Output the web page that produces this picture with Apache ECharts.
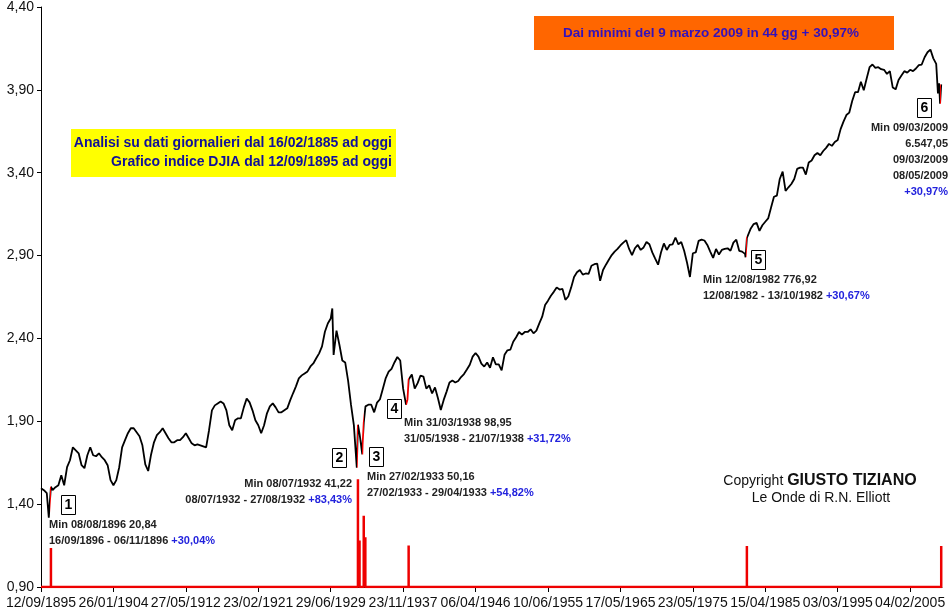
<!DOCTYPE html>
<html>
<head>
<meta charset="utf-8">
<title>DJIA - Le Onde di R.N. Elliott</title>
<script src="https://cdn.jsdelivr.net/npm/echarts@6/dist/echarts.min.js"></script>
<style>
    html, body { margin: 0; padding: 0; background: #ffffff; }
    #chart { width: 950px; height: 614px; }
</style>
</head>
<body>
<div id="chart"></div>
<script>
// asse X: 1 unita = 100 sedute, un'etichetta ogni 25 unita
var tickLabels = ['12/09/1895', '26/01/1904', '27/05/1912', '23/02/1921', '29/06/1929', '23/11/1937',
    '06/04/1946', '10/06/1955', '17/05/1965', '23/05/1975', '15/04/1985', '03/03/1995', '04/02/2005'];

// log10 del DJIA, un valore ogni 100 sedute
var djiaLog = [
    1.496, 1.484, 1.466, 1.400, 1.484, 1.502, 1.514, 1.575, 1.514, 1.623,
    1.665, 1.743, 1.725, 1.707, 1.635, 1.617, 1.695, 1.743, 1.695, 1.689,
    1.707, 1.683, 1.665, 1.635, 1.545, 1.514, 1.545, 1.623, 1.743, 1.786,
    1.828, 1.858, 1.858, 1.834, 1.810, 1.755, 1.640, 1.600, 1.700, 1.773,
    1.816, 1.834, 1.858, 1.828, 1.798, 1.773, 1.773, 1.786, 1.786, 1.804,
    1.828, 1.798, 1.767, 1.755, 1.761, 1.755, 1.749, 1.743, 1.846, 1.966,
    1.996, 2.008, 2.020, 2.008, 1.966, 1.876, 1.846, 1.906, 1.918, 1.918,
    1.984, 2.038, 2.014, 1.966, 1.906, 1.876, 1.828, 1.876, 1.948, 1.990,
    2.008, 1.984, 1.954, 1.954, 1.966, 1.978, 2.026, 2.069, 2.111, 2.159,
    2.177, 2.189, 2.201, 2.231, 2.249, 2.280, 2.310, 2.352, 2.440, 2.490,
    2.520, 2.300, 2.447, 2.362, 2.267, 2.255, 2.146, 2.000, 1.875, 1.620,
    1.820, 1.760, 1.990, 2.000, 2.000, 1.954, 2.013, 2.033, 2.097, 2.161,
    2.199, 2.217, 2.255, 2.288, 2.267, 2.097, 2.000, 2.146, 2.182, 2.097,
    2.130, 2.176, 2.170, 2.097, 2.117, 2.068, 2.104, 2.041, 1.968, 2.029,
    2.079, 2.134, 2.146, 2.134, 2.143, 2.167, 2.185, 2.212, 2.241, 2.290,
    2.312, 2.290, 2.248, 2.230, 2.255, 2.223, 2.286, 2.243, 2.243, 2.207,
    2.301, 2.328, 2.332, 2.380, 2.407, 2.439, 2.423, 2.439, 2.439, 2.455,
    2.431, 2.447, 2.491, 2.531, 2.602, 2.628, 2.658, 2.681, 2.708, 2.695,
    2.699, 2.633, 2.653, 2.708, 2.771, 2.799, 2.813, 2.785, 2.792, 2.789,
    2.839, 2.848, 2.851, 2.748, 2.813, 2.845, 2.875, 2.903, 2.924, 2.940,
    2.961, 2.978, 2.993, 2.940, 2.903, 2.944, 2.964, 2.934, 2.949, 2.982,
    2.968, 2.919, 2.881, 2.845, 2.919, 2.973, 2.934, 2.964, 2.968, 3.009,
    2.968, 2.982, 2.929, 2.857, 2.771, 2.914, 2.919, 2.989, 2.996, 2.991,
    2.964, 2.924, 2.886, 2.940, 2.906, 2.934, 2.940, 2.944, 2.929, 2.978,
    2.996, 2.929, 2.924, 2.910, 3.013, 3.064, 3.090, 3.097, 3.049, 3.083,
    3.104, 3.124, 3.190, 3.255, 3.262, 3.362, 3.407, 3.290, 3.312, 3.332,
    3.362, 3.423, 3.431, 3.431, 3.389, 3.462, 3.474, 3.505, 3.519, 3.505,
    3.531, 3.550, 3.574, 3.562, 3.585, 3.597, 3.663, 3.708, 3.748, 3.763,
    3.833, 3.886, 3.886, 3.949, 3.898, 3.968, 4.037, 4.053, 4.033, 4.037,
    4.025, 4.021, 3.996, 4.013, 3.914, 3.903, 3.959, 3.987, 4.013, 4.004,
    4.021, 4.013, 4.029, 4.049, 4.053, 4.097, 4.127, 4.143, 4.090, 4.057,
    3.940
];

// minimi e massimi dei rialzi (posizione in unita di 100 sedute)
var swingX = [2.69, 3.43, 100.55, 109.4, 110.9, 111.4, 126.05, 126.5, 126.9, 243.2, 243.65, 309.6, 310.33, 310.73];
var swingY = [1.319, 1.505, 2.581, 1.879, 1.700, 1.890, 1.995, 2.032, 2.152, 2.890, 3.006, 3.878, 3.816, 3.933];

// tratti in rosso (rialzi)
var rallyFrom = [2.95, 108.98, 110.88, 126.0, 243.18, 310.3];
var rallyTo = [3.45, 109.42, 111.42, 126.92, 243.67, 310.75];

// barre rosse in basso
var spikeX = [3.43, 109.4, 109.95, 111.4, 111.95, 126.9, 243.65, 310.73];
var spikeH = [1.135, 1.55, 1.18, 1.33, 1.20, 1.15, 1.147, 1.147];

var FONT = 'Arial, "Liberation Sans", sans-serif';
var RED = '#ee0000';

var linePts = djiaLog.map(function (v, i) { return [i, v]; });
swingX.forEach(function (x, k) { linePts.push([x, swingY[k]]); });
linePts.sort(function (a, b) { return a[0] - b[0]; });

var spikePts = [[0, 0.9]];
spikeX.forEach(function (x, k) {
    spikePts.push([x, 0.9], [x, spikeH[k]], [x, 0.9]);
});
spikePts.push([311, 0.9]);

var pieces = rallyFrom.map(function (a, k) {
    return { gte: a, lte: rallyTo[k], color: RED };
});

function box(x, y, n) {
    return {
        type: 'group', left: x, top: y, z: 100,
        children: [
            { type: 'rect', shape: { x: 0, y: 0, width: 14, height: 19 },
              style: { fill: '#fff', stroke: '#000', lineWidth: 1 } },
            { type: 'text', x: 7, y: 10,
              style: { text: n, fill: '#000', font: 'bold 14px ' + FONT, align: 'center', verticalAlign: 'middle' } }
        ]
    };
}

function note(x, y, txt, align) {
    return {
        type: 'text', x: x, y: y, z: 100,
        style: {
            text: txt, align: align || 'left', verticalAlign: 'middle',
            font: 'bold 11px ' + FONT, fill: '#222',
            rich: { p: { fill: '#2222dd', font: 'bold 11px ' + FONT } }
        }
    };
}

var chart = echarts.init(document.getElementById('chart'), null, { renderer: 'canvas' });

var option = {
    backgroundColor: '#ffffff',
    animation: false,
    grid: { left: 41, right: 8, top: 6, bottom: 27 },
    xAxis: {
        type: 'value', min: 0, max: 311, interval: 25,
        splitLine: { show: false },
        axisLine: { lineStyle: { color: '#000', width: 1 } },
        axisTick: { length: 5, lineStyle: { color: '#000' } },
        axisLabel: {
            margin: 9, color: '#111', fontFamily: FONT, fontSize: 14,
            showMaxLabel: false,
            formatter: function (v) {
                return v % 25 === 0 ? (tickLabels[v / 25] || '') : '';
            }
        }
    },
    yAxis: {
        type: 'value', min: 0.9, max: 4.4, interval: 0.5,
        splitLine: { show: false },
        axisLine: { show: true, lineStyle: { color: '#000', width: 1 } },
        axisTick: { show: true, length: 4, lineStyle: { color: '#000' } },
        axisLabel: {
            margin: 7, color: '#111', fontFamily: FONT, fontSize: 14,
            formatter: function (v) { return v.toFixed(2).replace('.', ','); }
        }
    },
    visualMap: {
        type: 'piecewise', show: false, dimension: 0, seriesIndex: 0,
        pieces: pieces,
        outOfRange: { color: '#000000' }
    },
    series: [
        {
            name: 'DJIA (log)', type: 'line', data: linePts,
            showSymbol: false, symbol: 'none', z: 3,
            lineStyle: { width: 1.8 }
        },
        {
            name: 'Rialzi', type: 'line', data: spikePts,
            showSymbol: false, symbol: 'none', z: 4,
            lineStyle: { width: 2.5, color: RED },
            itemStyle: { color: RED }
        }
    ],
    graphic: [
        { type: 'rect', shape: { x: 534, y: 16, width: 360, height: 34 }, style: { fill: '#ff6600' }, z: 90 },
        { type: 'text', x: 711, y: 33, z: 100,
          style: { text: 'Dai minimi del 9 marzo 2009 in 44 gg + 30,97%', align: 'center', verticalAlign: 'middle',
                   font: 'bold 13.5px ' + FONT, fill: '#3311bb' } },

        { type: 'rect', shape: { x: 71, y: 129, width: 325, height: 48 }, style: { fill: '#ffff00' }, z: 90 },
        { type: 'text', x: 392, y: 143, z: 100,
          style: { text: 'Analisi su dati giornalieri dal 16/02/1885 ad oggi', align: 'right', verticalAlign: 'middle',
                   font: 'bold 14px ' + FONT, fill: '#10109a' } },
        { type: 'text', x: 392, y: 162, z: 100,
          style: { text: 'Grafico indice DJIA dal 12/09/1895 ad oggi', align: 'right', verticalAlign: 'middle',
                   font: 'bold 14px ' + FONT, fill: '#10109a' } },

        { type: 'text', x: 820, y: 481, z: 100,
          style: { text: '{a|Copyright }{b|GIUSTO TIZIANO}', align: 'center', verticalAlign: 'middle',
                   rich: { a: { font: '14px ' + FONT, fill: '#111' }, b: { font: 'bold 16px ' + FONT, fill: '#111' } } } },
        { type: 'text', x: 821, y: 498, z: 100,
          style: { text: 'Le Onde di R.N. Elliott', align: 'center', verticalAlign: 'middle',
                   font: '14px ' + FONT, fill: '#111' } },

        box(61, 495, '1'),
        note(49, 525, 'Min 08/08/1896 20,84'),
        note(49, 541, '16/09/1896 - 06/11/1896 {p|+30,04%}'),

        box(332, 448, '2'),
        note(352, 484, 'Min 08/07/1932 41,22', 'right'),
        note(352, 500, '08/07/1932 - 27/08/1932 {p|+83,43%}', 'right'),

        box(369, 447, '3'),
        note(367, 477, 'Min 27/02/1933 50,16'),
        note(367, 493, '27/02/1933 - 29/04/1933 {p|+54,82%}'),

        box(387, 399, '4'),
        note(404, 423, 'Min 31/03/1938 98,95'),
        note(404, 439, '31/05/1938 - 21/07/1938 {p|+31,72%}'),

        box(751, 250, '5'),
        note(703, 280, 'Min 12/08/1982 776,92'),
        note(703, 296, '12/08/1982 - 13/10/1982 {p|+30,67%}'),

        box(917, 98, '6'),
        note(948, 128, 'Min 09/03/2009', 'right'),
        note(948, 144, '6.547,05', 'right'),
        note(948, 160, '09/03/2009', 'right'),
        note(948, 176, '08/05/2009', 'right'),
        note(948, 192, '{p|+30,97%}', 'right')
    ]
};

chart.setOption(option);
window.onresize = function () { chart.resize(); };
</script>
</body>
</html>
